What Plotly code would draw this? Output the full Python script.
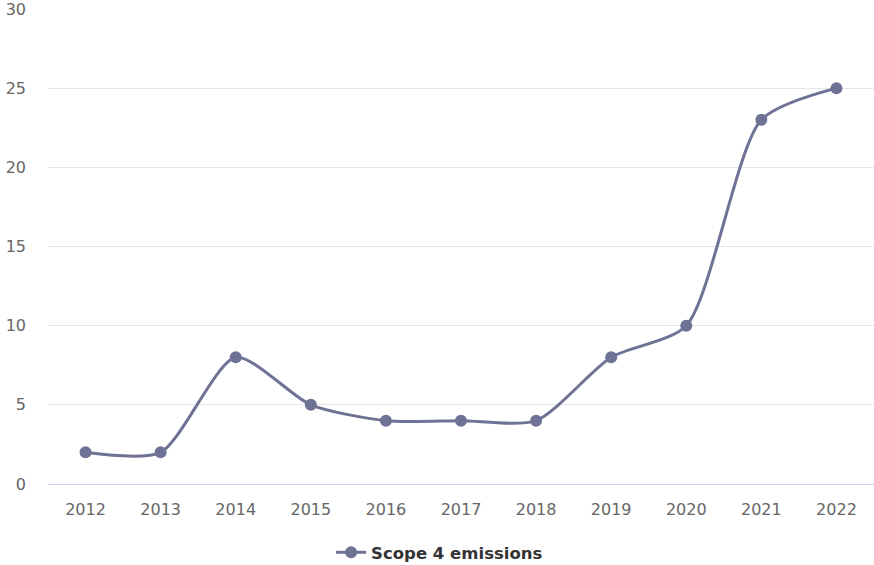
import plotly.graph_objects as go

years = ["2012", "2013", "2014", "2015", "2016", "2017", "2018", "2019", "2020", "2021", "2022"]
emissions = [2, 2, 8, 5, 4, 4, 4, 8, 10, 23, 25]
y_ticks = [0, 5, 10, 15, 20, 25, 30]

line_color = "#6e7294"
font_family = "DejaVu Sans, Verdana, sans-serif"

fig = go.Figure()
fig.add_trace(go.Scatter(
    x=years,
    y=emissions,
    mode="lines+markers",
    name="Scope 4 emissions",
    line=dict(color=line_color, width=3, shape="spline", smoothing=0.7),
    marker=dict(color=line_color, size=12),
))

fig.update_layout(
    width=874,
    height=565,
    margin=dict(l=48, r=0, t=9, b=81),
    paper_bgcolor="white",
    plot_bgcolor="white",
    font=dict(family=font_family, size=16, color="#666666"),
    showlegend=True,
    legend=dict(
        orientation="h",
        xref="container",
        x=0.503,
        xanchor="center",
        yref="container",
        y=0.022,
        yanchor="middle",
        font=dict(family=font_family, size=16.5, color="#333333", weight="bold"),
    ),
    xaxis=dict(
        type="category",
        range=[-0.5, 10.5],
        automargin=False,
        showgrid=False,
        showline=True,
        linecolor="#ccd6eb",
        linewidth=1,
        zeroline=False,
        ticks="",
        ticklabelstandoff=11,
        tickfont=dict(size=16, color="#666666"),
    ),
    yaxis=dict(
        range=[0, 30],
        automargin=False,
        tickmode="array",
        tickvals=y_ticks,
        ticklabeloverflow="allow",
        showgrid=True,
        gridcolor="#e6e6e6",
        gridwidth=1,
        zeroline=False,
        showline=False,
        ticks="",
        ticklabelstandoff=21,
        tickfont=dict(size=16, color="#666666"),
    ),
)

fig.write_html("out.html")
